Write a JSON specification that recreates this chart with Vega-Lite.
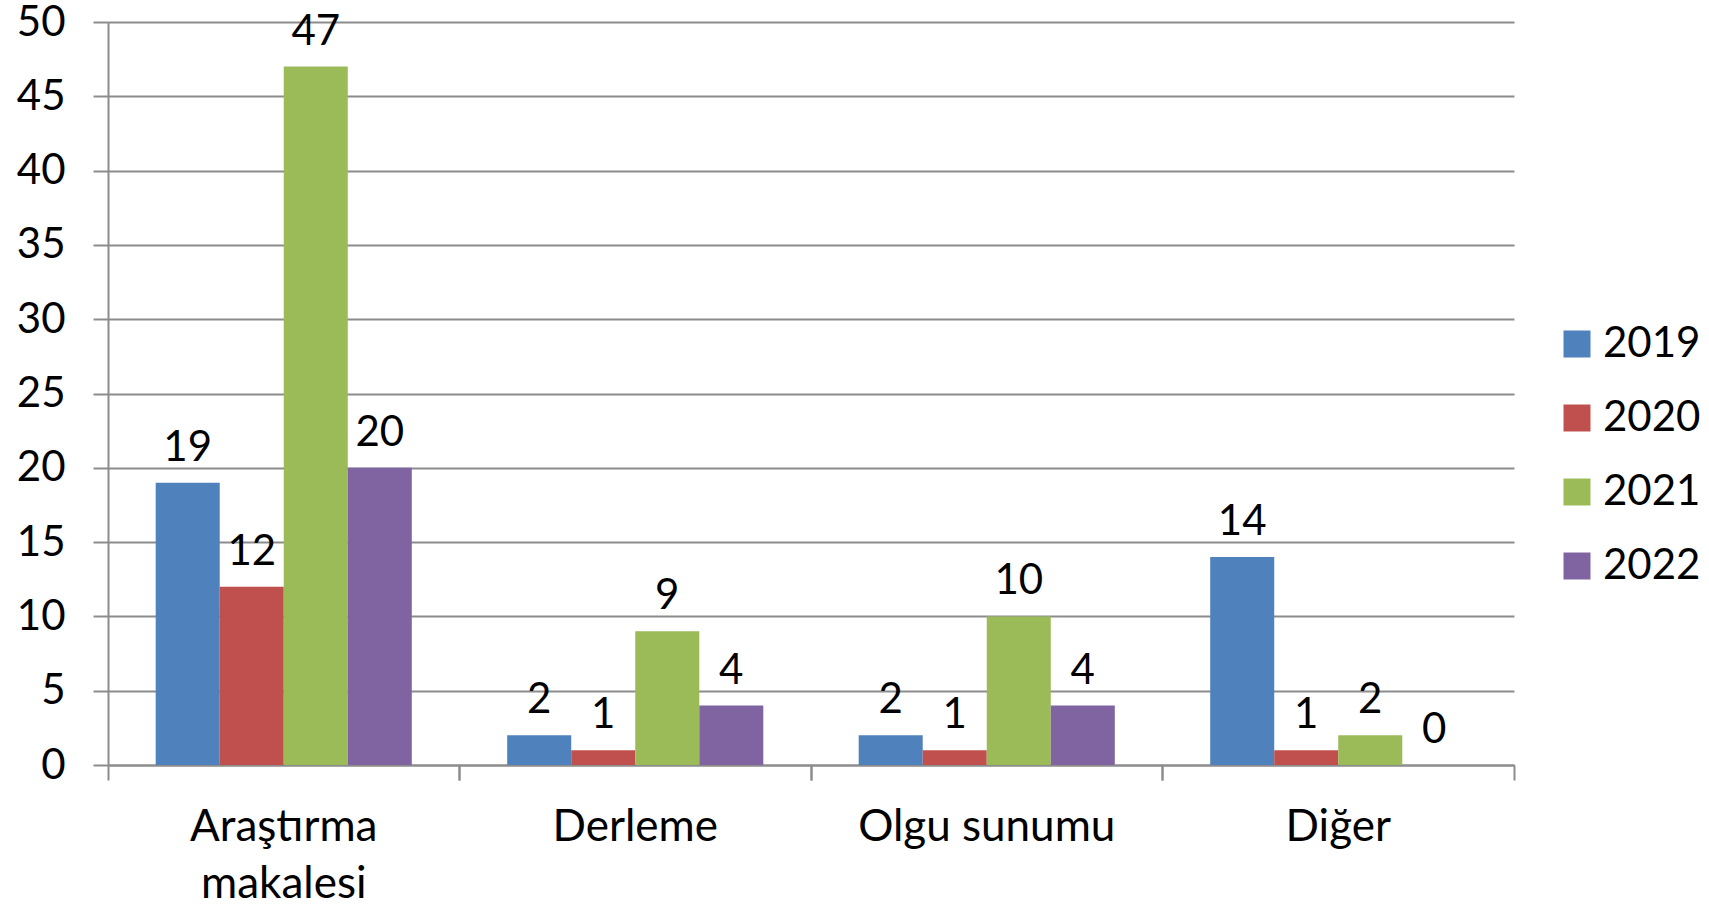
{
  "$schema": "https://vega.github.io/schema/vega-lite/v6.json",
  "autosize": {"type": "none"},
  "padding": {"left": 108, "top": 22, "right": 195, "bottom": 142},
  "width": 1406,
  "height": 743,
  "background": "white",
  "config": {
    "font": "Lato",
    "view": {"stroke": null},
    "axis": {"labelColor": "black", "labelFont": "Lato", "labelFontSize": 42, "title": null, "domainColor": "#8c8c8c", "domainWidth": 2, "tickColor": "#8c8c8c", "tickWidth": 2, "gridColor": "#8c8c8c", "gridWidth": 2},
    "legend": {"orient": "none", "legendX": 1448, "legendY": 301, "title": null, "padding": 0, "symbolType": "square", "symbolSize": 729, "symbolStrokeWidth": 0, "labelFontSize": 42, "labelFont": "Lato", "labelColor": "black", "rowPadding": 32, "labelOffset": 5, "labelLimit": 0}
  },
  "data": {"values": [
    {"kategori": "Araştırma makalesi", "yil": "2019", "deger": 19},
    {"kategori": "Araştırma makalesi", "yil": "2020", "deger": 12},
    {"kategori": "Araştırma makalesi", "yil": "2021", "deger": 47},
    {"kategori": "Araştırma makalesi", "yil": "2022", "deger": 20},
    {"kategori": "Derleme", "yil": "2019", "deger": 2},
    {"kategori": "Derleme", "yil": "2020", "deger": 1},
    {"kategori": "Derleme", "yil": "2021", "deger": 9},
    {"kategori": "Derleme", "yil": "2022", "deger": 4},
    {"kategori": "Olgu sunumu", "yil": "2019", "deger": 2},
    {"kategori": "Olgu sunumu", "yil": "2020", "deger": 1},
    {"kategori": "Olgu sunumu", "yil": "2021", "deger": 10},
    {"kategori": "Olgu sunumu", "yil": "2022", "deger": 4},
    {"kategori": "Diğer", "yil": "2019", "deger": 14},
    {"kategori": "Diğer", "yil": "2020", "deger": 1},
    {"kategori": "Diğer", "yil": "2021", "deger": 2},
    {"kategori": "Diğer", "yil": "2022", "deger": 0}
  ]},
  "encoding": {
    "xOffset": {"field": "yil", "type": "nominal", "scale": {"paddingInner": 0, "paddingOuter": 0.745}},
    "y": {"field": "deger", "type": "quantitative", "scale": {"domain": [0, 50], "nice": false}, "axis": {"values": [0, 5, 10, 15, 20, 25, 30, 35, 40, 45, 50], "grid": true, "tickSize": 15, "labelPadding": 28, "domain": true}}
  },
  "layer": [
    {
      "mark": {"type": "bar"},
      "encoding": {
        "x": {"field": "kategori", "type": "nominal", "sort": ["Araştırma makalesi", "Derleme", "Olgu sunumu", "Diğer"], "scale": {"paddingInner": 0, "paddingOuter": 0}, "axis": {"orient": "bottom", "bandPosition": 0, "labels": false, "ticks": true, "tickSize": 15, "grid": false, "domain": true}},
        "color": {"field": "yil", "type": "nominal", "scale": {"domain": ["2019", "2020", "2021", "2022"], "range": ["#4F81BD", "#C0504D", "#9BBB59", "#8064A2"]}}
      }
    },
    {
      "mark": {"type": "text", "dy": -22, "baseline": "alphabetic", "fontSize": 42, "font": "Lato", "color": "black"},
      "encoding": {
        "x": {"field": "kategori", "type": "nominal", "sort": ["Araştırma makalesi", "Derleme", "Olgu sunumu", "Diğer"], "axis": {"orient": "bottom", "labels": true, "ticks": false, "domain": false, "grid": false, "labelAngle": 0, "labelLimit": 0, "labelAlign": "center", "labelFontSize": 44, "labelPadding": 40, "labelBaseline": "top", "labelLineHeight": 57, "labelExpr": "datum.label == 'Araştırma makalesi' ? ['Araştırma', 'makalesi'] : datum.label"}},
        "text": {"field": "deger", "type": "quantitative"}
      }
    },
    {
      "mark": {"type": "text", "opacity": 0},
      "encoding": {
        "x": {"field": "kategori", "type": "nominal", "sort": ["Araştırma makalesi", "Derleme", "Olgu sunumu", "Diğer"], "axis": {"orient": "bottom", "bandPosition": 1, "labels": false, "ticks": true, "tickSize": 15, "domain": false, "grid": false}},
        "text": {"field": "deger", "type": "quantitative"}
      }
    }
  ],
  "resolve": {"axis": {"x": "independent"}}
}
